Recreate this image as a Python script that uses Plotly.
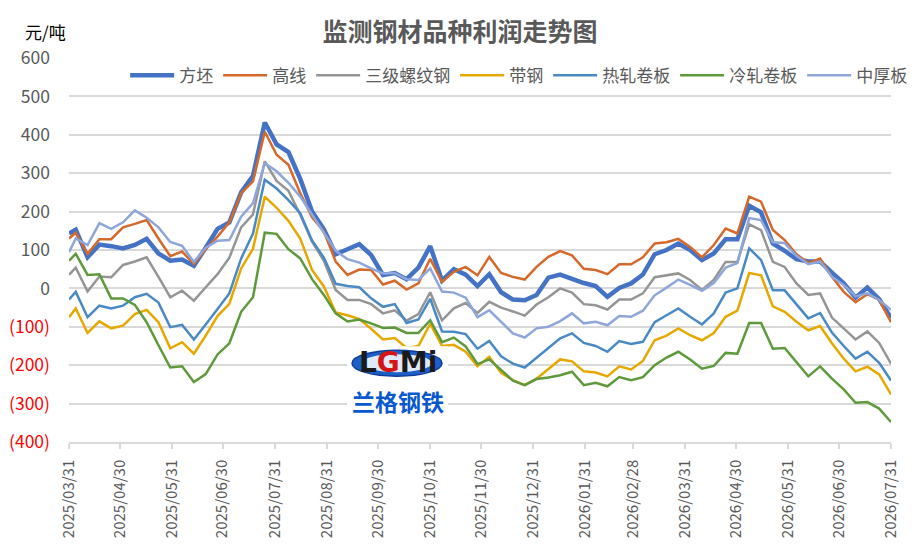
import plotly.graph_objects as go

# weekly dates (first point is the month end, then Fridays)
dates = [
    "2025-03-31", "2025-04-04", "2025-04-11", "2025-04-18", "2025-04-25",
    "2025-05-02", "2025-05-09", "2025-05-16", "2025-05-23", "2025-05-30",
    "2025-06-06", "2025-06-13", "2025-06-20", "2025-06-27", "2025-07-04",
    "2025-07-11", "2025-07-18", "2025-07-25", "2025-08-01", "2025-08-08",
    "2025-08-15", "2025-08-22", "2025-08-29", "2025-09-05", "2025-09-12",
    "2025-09-19", "2025-09-26", "2025-10-03", "2025-10-10", "2025-10-17",
    "2025-10-24", "2025-10-31", "2025-11-07", "2025-11-14", "2025-11-21",
    "2025-11-28", "2025-12-05", "2025-12-12", "2025-12-19", "2025-12-26",
    "2026-01-02", "2026-01-09", "2026-01-16", "2026-01-23", "2026-01-30",
    "2026-02-06", "2026-02-13", "2026-02-20", "2026-02-27", "2026-03-06",
    "2026-03-13", "2026-03-20", "2026-03-27", "2026-04-03", "2026-04-10",
    "2026-04-17", "2026-04-24", "2026-05-01", "2026-05-08", "2026-05-15",
    "2026-05-22", "2026-05-29", "2026-06-05", "2026-06-12", "2026-06-19",
    "2026-06-26", "2026-07-03", "2026-07-10", "2026-07-17", "2026-07-24",
    "2026-07-31",
]

# profit per product, yuan/ton
fangpi = [143, 153, 81, 114, 110, 104, 113, 129, 91, 72,
          75, 59, 106, 155, 172, 250, 293, 432, 375, 355,
          285, 200, 154, 89, 102, 115, 87, 35, 40, 24,
          54, 110, 20, 50, 36, 6, 37, -10, -29, -31,
          -17, 28, 36, 24, 14, 6, -22, 1, 13, 36,
          89, 100, 117, 100, 74, 91, 128, 128, 215, 198,
          117, 98, 76, 70, 70, 41, 13, -24, 2, -28,
          -77]
gaoxian = [130, 145, 90, 128, 128, 159, 168, 178, 130, 84,
           96, 64, 102, 135, 172, 248, 279, 408, 348, 322,
           248, 185, 148, 70, 35, 49, 48, 10, 20, -3,
           13, 77, 17, 43, 56, 34, 82, 40, 30, 23,
           56, 82, 97, 86, 51, 48, 37, 63, 63, 81,
           117, 120, 129, 108, 81, 113, 156, 143, 239, 226,
           152, 126, 89, 66, 78, 30, -9, -36, -15, -30,
           -88]
luowen = [35, 54, -8, 31, 29, 61, 70, 81, 30, -23,
          -6, -32, 3, 37, 80, 159, 193, 331, 280, 254,
          192, 122, 72, -4, -30, -30, -41, -65, -57, -84,
          -67, -10, -83, -52, -38, -64, -35, -50, -60, -71,
          -42, -23, 0, -11, -41, -44, -55, -29, -29, -13,
          29, 35, 39, 22, -4, 22, 69, 69, 167, 152,
          69, 56, 13, -17, -13, -76, -104, -133, -112, -142,
          -196]
daigang = [-75, -52, -116, -86, -104, -97, -67, -56, -88, -156,
           -140, -170, -123, -72, -40, 52, 103, 239, 210, 176,
           130, 48, 5, -63, -70, -80, -105, -133, -129, -155,
           -150, -92, -150, -147, -165, -203, -178, -220, -239, -252,
           -235, -211, -185, -190, -216, -219, -229, -203, -211, -189,
           -135, -123, -104, -122, -135, -116, -74, -58, 40, 34,
           -47, -61, -87, -109, -98, -143, -183, -216, -204, -224,
           -276]
rezha = [-29, -9, -75, -45, -52, -45, -23, -14, -37, -101,
         -95, -133, -94, -53, -13, 78, 143, 283, 260, 230,
         196, 125, 80, 12, 6, 3, -26, -48, -41, -90,
         -81, -27, -112, -113, -119, -157, -137, -177, -196, -206,
         -180, -154, -130, -117, -142, -150, -165, -137, -145, -139,
         -88, -70, -52, -74, -94, -65, -11, 0, 104, 74,
         -5, -5, -43, -78, -64, -115, -150, -183, -165, -194,
         -240]
lengzha = [72, 90, 35, 37, -26, -26, -43, -88, -148, -206,
           -203, -244, -223, -172, -143, -61, -23, 145, 142, 102,
           78, 24, -17, -65, -86, -81, -91, -103, -102, -116,
           -116, -83, -140, -128, -151, -197, -185, -213, -240, -252,
           -236, -232, -226, -217, -252, -246, -255, -231, -239, -231,
           -200, -180, -165, -185, -209, -202, -168, -170, -90, -90,
           -157, -155, -191, -229, -203, -235, -263, -298, -296, -313,
           -348]
zhonghou = [94, 130, 113, 170, 155, 172, 203, 184, 159, 121,
            111, 69, 106, 124, 126, 187, 222, 326, 305, 275,
            239, 192, 146, 98, 76, 67, 52, 39, 40, 24,
            22, 52, -8, -11, -24, -75, -57, -87, -117, -128,
            -104, -100, -85, -65, -91, -87, -96, -72, -74, -58,
            -18, 2, 23, 9, -6, 14, 54, 66, 183, 178,
            120, 118, 85, 63, 70, 30, 9, -21, -13, -30,
            -56]

# x axis ticks at month ends
month_ends = [
    "2025-03-31", "2025-04-30", "2025-05-31", "2025-06-30", "2025-07-31",
    "2025-08-31", "2025-09-30", "2025-10-31", "2025-11-30", "2025-12-31",
    "2026-01-31", "2026-02-28", "2026-03-31", "2026-04-30", "2026-05-31",
    "2026-06-30", "2026-07-31",
]
month_labels = [d.replace("-", "/") for d in month_ends]

y_ticks = [-400, -300, -200, -100, 0, 100, 200, 300, 400, 500, 600]
y_labels = ["<span style='color:#ff0000'>(%d)</span>" % -v if v < 0 else str(v) for v in y_ticks]

series = [
    ("方坯", fangpi, "#4472C4", 4.5),
    ("高线", gaoxian, "#D4692B", 2.5),
    ("三级螺纹钢", luowen, "#959595", 2.5),
    ("带钢", daigang, "#E6A800", 2.5),
    ("热轧卷板", rezha, "#4A8AC4", 2.5),
    ("冷轧卷板", lengzha, "#5E9A3B", 2.5),
    ("中厚板", zhonghou, "#8EA6DA", 2.5),
]

font = "Noto Sans CJK SC"

fig = go.Figure()
for name, vals, color, width in series:
    fig.add_trace(go.Scatter(x=dates, y=vals, mode="lines", name=name,
                             line=dict(color=color, width=width)))

# the page adds an 8px body margin, so margins are set 8px smaller on top/left
fig.update_layout(
    width=916, height=559,
    margin=dict(l=61, r=33, t=50, b=125),
    paper_bgcolor="white", plot_bgcolor="white",
    font=dict(family=font, color="#595959", size=15),
    title=dict(text="<b>监测钢材品种利润走势图</b>", x=0.4934, y=0.957,
               xanchor="center", yanchor="middle",
               font=dict(family=font, size=25, color="#595959")),
    legend=dict(orientation="h", x=0.547, y=0.954, xanchor="center", yanchor="middle",
                font=dict(size=17, color="#595959"), bgcolor="rgba(0,0,0,0)",
                itemwidth=44, tracegroupgap=0),
    showlegend=True,
)

fig.update_xaxes(
    range=[month_ends[0], month_ends[-1]], automargin=False,
    tickvals=month_ends, ticktext=month_labels, tickangle=-90,
    tickfont=dict(size=15, color="#595959"), ticklabelstandoff=5,
    showgrid=False, zeroline=False,
    showline=True, linecolor="#d9d9d9", linewidth=1.5,
    ticks="outside", ticklen=5, tickcolor="#d9d9d9", tickwidth=1.5,
)
fig.update_yaxes(
    range=[-400, 600], automargin=False, tickvals=y_ticks, ticktext=y_labels,
    tickfont=dict(size=17.5, color="#595959"),
    showgrid=True, gridcolor="#d9d9d9", gridwidth=1.5,
    zeroline=False, showline=False, ticklabelstandoff=18,
)

# unit label
fig.add_annotation(text="元/吨", xref="paper", yref="paper", x=-0.028, y=1.0686,
                   xanchor="center", yanchor="middle",
                   showarrow=False, font=dict(size=17, color="#000000"))

# LGMI logo watermark
fig.add_shape(type="rect", xref="paper", yref="paper", x0=0.3385, x1=0.4611, y0=0.062, y1=0.2495,
              fillcolor="white", line=dict(width=0), layer="above")
fig.add_shape(type="circle", xref="paper", yref="paper", x0=0.3443, x1=0.4538, y0=0.1714, y1=0.2392,
              fillcolor="#1d5fc9", line=dict(color="#0d3d99", width=1.5), layer="above")
fig.add_shape(type="circle", xref="paper", yref="paper", x0=0.3564, x1=0.4416, y0=0.1818, y1=0.2288,
              fillcolor="#dfe9f7", line=dict(width=0), layer="above")
fig.add_annotation(text="<b>L<span style='color:#d41515'>G</span>Mi</b>", xref="paper", yref="paper",
                   x=0.4002, y=0.207, xanchor="center", yanchor="middle",
                   showarrow=False, font=dict(family="DejaVu Sans", size=28, color="#1a1a1a"))
fig.add_annotation(text="<b>兰格钢铁</b>", xref="paper", yref="paper", x=0.400, y=0.1057,
                   xanchor="center", yanchor="middle",
                   showarrow=False, font=dict(family=font, size=23, color="#0a58d0"))

fig.write_html("out.html")
